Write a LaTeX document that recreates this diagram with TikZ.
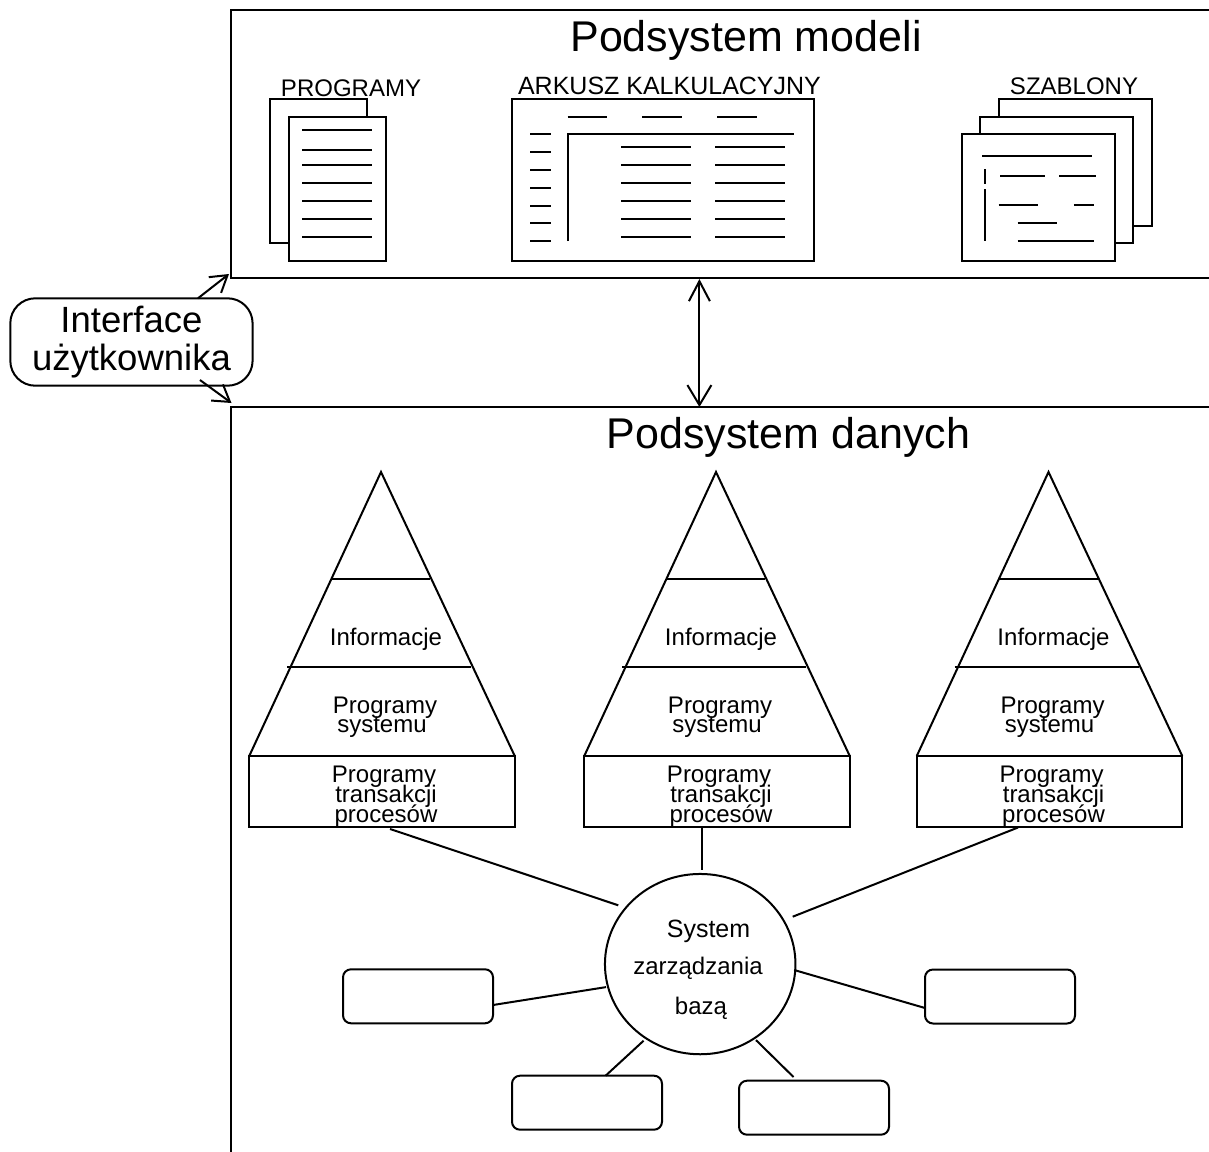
\documentclass[tikz,border=0pt]{standalone}
\usepackage{fontspec}
\setmainfont{Liberation Sans}
\usetikzlibrary{arrows.meta,shapes.geometric}
\tikzset{
  ln/.style={line width=2pt,line cap=butt,line join=miter},
  bigbox/.style={ln,draw,rectangle,inner sep=0pt,outer sep=0pt},
  sheet/.style={ln,draw,fill=white,rectangle,inner sep=0pt,outer sep=0pt},
  smallbox/.style={ln,draw,rectangle,rounded corners=8pt,minimum width=150pt,minimum height=54pt,inner sep=0pt,outer sep=0pt},
  title/.style={anchor=base,inner sep=0pt,font=\fontsize{43}{43}\selectfont},
  lab/.style={anchor=base,inner sep=0pt,font=\fontsize{24}{24}\selectfont},
  tip/.style={ln,-{Straight Barb[length=#1,width=20pt,line width=2pt]}},
}
\begin{document}
\begin{tikzpicture}[x=1pt,y=-1pt]
\useasboundingbox (0,0) rectangle (1209,1151);
\clip (0,0) rectangle (1209,1151);
% subsystem frames
\node[bigbox,minimum width=1169pt,minimum height=268pt] (mbox) at (815.5,144) {};
\node[bigbox,minimum width=1169pt,minimum height=893pt] (dbox) at (815.5,853.5) {};
\node[title] (mtitle) at (746,51.5) {Podsystem modeli};
\node[title] (dtitle) at (788.5,448) {Podsystem danych};
% programs
\node[sheet,minimum width=96.6pt,minimum height=144.5pt] (pback) at (318.3,170.8) {};
\node[sheet,minimum width=96.6pt,minimum height=144.3pt] (pfront) at (337.3,188.9) {};
\foreach \y in {129.5,150,165,183,200.5,218.5,236.5} \draw[ln] (302.3,\y) -- (372,\y);
\node[lab] (plabel) at (351,96.7) {PROGRAMY};
% spreadsheet
\node[sheet,minimum width=302.7pt,minimum height=162.4pt] (sheetbox) at (663,179.8) {};
\node[lab,font=\fontsize{25}{25}\selectfont] (slabel) at (669.5,94) {ARKUSZ KALKULACYJNY};
\draw[ln] (567.5,116.7) -- (607,116.7);
\draw[ln] (642.3,116.7) -- (682,116.7);
\draw[ln] (717.3,116.7) -- (756.5,116.7);
\draw[ln] (568,241) -- (568,134.3) -- (793.8,134.3);
\foreach \y in {134,152,170,188,205.5,223,241} \draw[ln] (530,\y) -- (551,\y);
\foreach \y in {146.7,165,183,201,218.7,236.5} {
  \draw[ln] (621.4,\y) -- (691,\y);
  \draw[ln] (715.3,\y) -- (785,\y);
}
% templates
\node[sheet,minimum width=153pt,minimum height=127pt] (tback) at (1075.3,162) {};
\node[sheet,minimum width=153.5pt,minimum height=126.3pt] (tmid) at (1056.7,179.9) {};
\node[sheet,minimum width=153pt,minimum height=127pt] (tfront) at (1038,197.5) {};
\node[lab] (tlabel) at (1074,94) {SZABLONY};
\draw[ln] (982.3,156) -- (1091.7,156);
\draw[ln] (1000.4,176.3) -- (1044.7,176.3);
\draw[ln] (1059.4,176.3) -- (1096.3,176.3);
\draw[ln] (998.5,205.3) -- (1037.7,205.3);
\draw[ln] (1073.8,205.3) -- (1094,205.3);
\draw[ln] (1017.5,223) -- (1056.7,223);
\draw[ln] (1017.5,240.7) -- (1094,240.7);
\draw[ln] (985.2,169) -- (985.2,184);
\draw[ln] (985.2,189) -- (985.2,241.3);
% user interface
\node[ln,draw,rectangle,rounded corners=25pt,minimum width=242.3pt,minimum height=87.4pt,inner sep=0pt,outer sep=0pt,align=center,font=\fontsize{36.5}{38}\selectfont] (iface) at (131.45,342) {Interface\\użytkownika};
\draw[tip=16pt] ([xshift=66.5pt]iface.north) -- ([shift={(-2,-4)}]mbox.south west);
\draw[tip=16pt] ([shift={(68.5,-5.7)}]iface.south) -- ([shift={(0.5,-4)}]dbox.north west);
% link between subsystems
\draw[ln,{Straight Barb[length=20pt,width=21pt,line width=2pt]}-{Straight Barb[length=20pt,width=24pt,line width=2pt]}] ([xshift=-116.1pt,yshift=-1pt]mbox.south) -- ([xshift=-116.1pt]dbox.north);
% pyramids
\foreach \i/\cx in {1/382,2/717,3/1049.5} {
  \node[sheet,minimum width=265.5pt,minimum height=71pt] (pb\i) at (\cx,791.5) {};
  \coordinate (apex\i) at (\cx-1,472);
  \draw[ln] (pb\i.north west) -- (apex\i) -- (pb\i.north east);
  \draw[ln] (\cx-51,579) -- (\cx+48,579);
  \draw[ln] (\cx-95,667) -- (\cx+89,667);
  \node[lab] (info\i) at (\cx+4,645) {Informacje};
  \node[lab] (prog\i) at (\cx+3,713) {Programy};
  \node[lab] (sys\i) at (\cx,732.5) {systemu};
  \node[lab] (progb\i) at (\cx+2,782.7) {Programy};
  \node[lab] (tran\i) at (\cx+4,802.5) {transakcji};
  \node[lab] (proc\i) at (\cx+4,822.5) {procesów};
}
% database manager
\node[ln,draw,ellipse,minimum width=190.5pt,minimum height=180.3pt,inner sep=0pt,outer sep=0pt] (db) at (700.2,964.1) {};
\node[lab,font=\fontsize{25}{25}\selectfont] (db1) at (708.5,937) {System};
\node[lab] (db2) at (698,974) {zarządzania};
\node[lab] (db3) at (701,1014) {bazą};
\draw[ln] ([shift={(8,2)}]pb1.south) -- ([shift={(-81.9,-58.8)}]db.center);
\draw[ln] ([shift={(-15.3,0)}]pb2.south) -- ([shift={(1.5,-94)}]db.center);
\draw[ln] ([shift={(-31.5,0.5)}]pb3.south) -- ([shift={(92.5,-47.4)}]db.center);
% small boxes
\node[smallbox] (sa) at (418,996.3) {};
\node[smallbox] (sb) at (587,1102.7) {};
\node[smallbox] (sc) at (814,1107.7) {};
\node[smallbox] (sd) at (1000,996.5) {};
\draw[ln] ([yshift=-8.7pt]sa.east) -- ([shift={(-94.2,23)}]db.center);
\draw[ln] ([xshift=18.6pt]sb.north) -- ([shift={(-56.6,76.6)}]db.center);
\draw[ln] ([xshift=-20.5pt,yshift=3.7pt]sc.north) -- ([shift={(55.8,76)}]db.center);
\draw[ln] ([yshift=-11.5pt]sd.west) -- ([shift={(94,5.9)}]db.center);
\end{tikzpicture}
\end{document}
